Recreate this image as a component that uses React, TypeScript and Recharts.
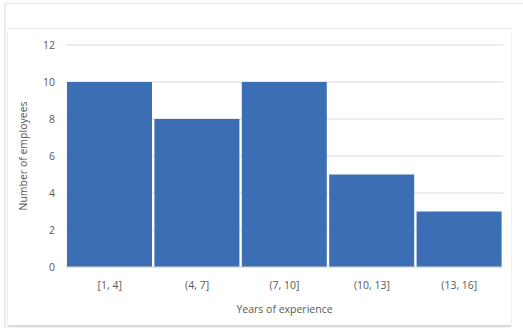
import React from 'react';
import { BarChart, Bar, XAxis, YAxis, CartesianGrid } from 'recharts';

const categories = ['[1, 4]', '(4, 7]', '(7, 10]', '(10, 13]', '(13, 16]'];
const employees = [10, 8, 10, 5, 3];
const yTicks = [0, 2, 4, 6, 8, 10, 12];

const data = categories.map((c, i) => ({ range: c, count: employees[i] }));

const FONT = '"Open Sans", "Noto Sans", sans-serif';
const GRAY = '#595959';

export default function App() {
  return (
    <div style={{ position: 'fixed', left: 0, top: 0, width: 523, height: 328, background: '#ffffff', overflow: 'hidden' }}>
      <div
        style={{
          position: 'absolute',
          left: 4,
          top: 3,
          width: 540,
          height: 325,
          borderTop: '1px solid #e6e6e6',
          borderLeft: '2px solid #ececec',
          background: '#ffffff',
        }}
      />
      <div
        style={{
          position: 'absolute',
          left: 8,
          top: 28,
          width: 503,
          height: 296,
          background: '#ffffff',
          borderTop: '1px solid #ececec',
          boxShadow: '0 2px 2px rgba(0,0,0,0.18)',
        }}
      >
        <BarChart
          width={503}
          height={296}
          data={data}
          margin={{ top: 16, right: 8, bottom: 8, left: 0 }}
          barCategoryGap={1}
          style={{ fontFamily: FONT }}
        >
          <CartesianGrid vertical={false} stroke="#d9d9d9" strokeWidth={1} />
          <XAxis
            dataKey="range"
            height={50}
            tickLine={false}
            tickSize={0}
            tickMargin={15}
            axisLine={{ stroke: '#d9d9d9' }}
            tick={{ fill: GRAY, fontSize: 10.5, fontFamily: FONT }}
            label={{ value: 'Years of experience', position: 'insideBottom', offset: 4, fill: GRAY, fontSize: 10.5, fontFamily: FONT }}
          />
          <YAxis
            width={58}
            domain={[0, 12]}
            ticks={yTicks}
            tickLine={false}
            axisLine={false}
            tickSize={0}
            tickMargin={11}
            tick={{ fill: GRAY, fontSize: 10.5, fontFamily: FONT }}
            label={{ value: 'Number of employees', angle: -90, position: 'insideLeft', offset: 15, fill: GRAY, fontSize: 10.5, fontFamily: FONT, style: { textAnchor: 'middle' } }}
          />
          <Bar dataKey="count" fill="#3c6eb4" isAnimationActive={false} />
        </BarChart>
      </div>
    </div>
  );
}
